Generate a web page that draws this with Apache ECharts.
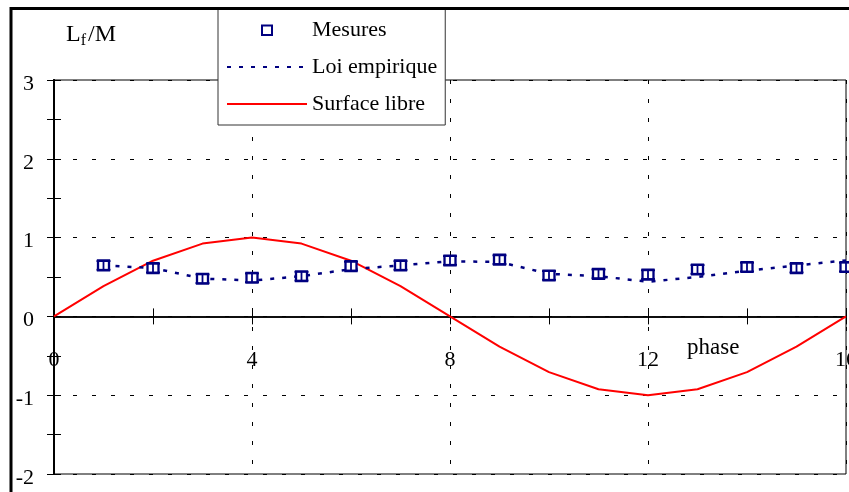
<!DOCTYPE html>
<html><head><meta charset="utf-8">
<script src="https://cdn.jsdelivr.net/npm/echarts@6/dist/echarts.min.js"></script>
<style>html,body{margin:0;padding:0;background:#fff}#c{width:849px;height:492px}</style>
</head><body><div id="c"></div>
<script>
// ---- data ----
const mesuresPhase = [1,2,3,4,5,6,7,8,9,10,11,12,13,14,15,16];
const mesures      = [0.647,0.613,0.478,0.49,0.51,0.638,0.647,0.71,0.72,0.52,0.54,0.53,0.596,0.626,0.613,0.626];
const mesuresErr   = [0.055,0.055,0.055,0.055,0.055,0.055,0.055,0.055,0.055,0.055,0.055,0.055,0.055,0.055,0.055,0.055];
const loiPhase     = [1,2,3,4,5,6,7,8,9,10,11,12,13,14,15,16];
const loi          = [0.647,0.613,0.48,0.455,0.51,0.60,0.647,0.70,0.69,0.54,0.51,0.44,0.50,0.58,0.647,0.71];
const surfacePhase = [0,1,2,3,4,5,6,7,8,9,10,11,12,13,14,15,16];
const surface      = [0,0.383,0.707,0.924,1,0.924,0.707,0.383,0,-0.383,-0.707,-0.924,-1,-0.924,-0.707,-0.383,0];
const xTickLabels  = [0,4,8,12,16];
const yTickLabels  = [-2,-1,0,1,2,3];

const FONT = 'Liberation Serif';
const NAVY = '#000080';

const chart = echarts.init(document.getElementById('c'), null, {renderer:'canvas'});

const xBase = {type:'value', min:0, max:16, interval:4, gridIndex:0};
const yBase = {type:'value', min:-2, max:3, interval:1, gridIndex:0};
const tickStyle = {color:'#000', width:1};

chart.setOption({
  animation:false,
  backgroundColor:'#fff',
  grid:{left:54, right:3, top:80, bottom:18, containLabel:false, outerBoundsMode:'none',
        show:true, borderColor:'#000', borderWidth:1, backgroundColor:'transparent'},
  xAxis:[
    // labels + vertical grid lines
    Object.assign({}, xBase, {
      position:'bottom',
      axisLine:{show:false, onZero:false},
      axisTick:{show:false},
      axisLabel:{show:true, margin:-125, fontFamily:FONT, fontSize:22, color:'#000',
        formatter:v => xTickLabels.includes(v) ? String(v) : ''},
      splitLine:{show:true, lineStyle:{color:'#000', width:1, type:[4,15]}}
    }),
    // axis line at zero, ticks downward
    Object.assign({}, xBase, {
      position:'bottom',
      axisLine:{show:true, onZero:true, onZeroAxisIndex:0, lineStyle:{color:'#000', width:1.5}},
      axisTick:{show:true, inside:false, length:8, lineStyle:tickStyle},
      minorTick:{show:true, splitNumber:2, length:8, lineStyle:tickStyle},
      axisLabel:{show:false},
      splitLine:{show:false}
    }),
    // ticks upward
    Object.assign({}, xBase, {
      position:'bottom',
      axisLine:{show:true, onZero:true, onZeroAxisIndex:1, lineStyle:{color:'#000', width:1.5}},
      axisTick:{show:true, inside:true, length:8, lineStyle:tickStyle},
      minorTick:{show:true, splitNumber:2, length:8, lineStyle:tickStyle},
      axisLabel:{show:false},
      splitLine:{show:false}
    })
  ],
  yAxis:[
    Object.assign({}, yBase, {
      position:'left',
      axisLine:{show:true, onZero:false, lineStyle:{color:'#000', width:2}},
      axisTick:{show:true, inside:false, length:7, lineStyle:tickStyle},
      minorTick:{show:true, splitNumber:2, length:7, lineStyle:tickStyle},
      axisLabel:{show:true, margin:20, fontFamily:FONT, fontSize:22, color:'#000',
        verticalAlign:'top', lineHeight:8,
        formatter:v => yTickLabels.includes(v) ? String(v) : ''},
      splitLine:{show:true, lineStyle:{color:'#000', width:1, type:[4,15]}}
    }),
    Object.assign({}, yBase, {
      position:'left',
      axisLine:{show:true, onZero:false, lineStyle:{color:'#000', width:2}},
      axisTick:{show:true, inside:true, length:7, lineStyle:tickStyle},
      minorTick:{show:true, splitNumber:2, length:7, lineStyle:tickStyle},
      axisLabel:{show:false},
      splitLine:{show:false}
    })
  ],
  legend:{
    data:[
      {name:'Mesures', icon:'path://M0,0 M80,10 M35,0.5 L45,0.5 L45,10 L35,10 Z'},
      {name:'Loi empirique', itemStyle:{opacity:0}},
      {name:'Surface libre', itemStyle:{opacity:0}}
    ],
    orient:'vertical', left:218, top:8,
    itemWidth:80, itemHeight:10, itemGap:15,
    padding:[11,8,10,8],
    backgroundColor:'#fff', borderColor:'#333', borderWidth:1, borderRadius:0,
    textStyle:{fontFamily:FONT, fontSize:22, color:'#000'},
    selectedMode:false
  },
  graphic:[
    {type:'rect', z:100, silent:true, shape:{x:11, y:8.5, width:900, height:600},
     style:{fill:'none', stroke:'#000', lineWidth:3}},
    {type:'text', left:66, top:23, z:100, style:{
      text:'{a|L}{b|f}{a|/M}',
      rich:{
        a:{fontFamily:FONT, fontSize:24, lineHeight:28, fill:'#000'},
        b:{fontFamily:FONT, fontSize:16, lineHeight:15, verticalAlign:'bottom', fill:'#000', padding:[0,2,0,0]}
      }
    }},
    {type:'text', left:687, top:336, z:100, style:{text:'phase', fontFamily:FONT, fontSize:23, fill:'#000'}}
  ],
  series:[
    {
      name:'Surface libre', type:'line', xAxisIndex:0, yAxisIndex:0,
      data:surfacePhase.map((p,i)=>[p, surface[i]]),
      symbol:'none', clip:false,
      lineStyle:{color:'#ff0000', width:2}, itemStyle:{color:'#ff0000'}, z:3
    },
    {
      name:'Loi empirique', type:'line', xAxisIndex:0, yAxisIndex:0,
      data:loiPhase.map((p,i)=>[p, loi[i]]),
      symbol:'none', clip:false,
      lineStyle:{color:NAVY, width:2.5, type:[4,8]}, itemStyle:{color:NAVY}, z:4
    },
    {
      name:'Mesures', type:'scatter', xAxisIndex:0, yAxisIndex:0,
      data:mesuresPhase.map((p,i)=>[p, mesures[i]]),
      symbol:'rect', symbolSize:[11,10], clip:false,
      itemStyle:{color:'#fff', borderColor:NAVY, borderWidth:2.2, opacity:1}, z:6
    },
    {
      name:'Erreur', type:'custom', xAxisIndex:0, yAxisIndex:0, clip:false, z:7,
      data:mesuresPhase.map((p,i)=>[p, mesures[i], mesuresErr[i]]),
      encode:{x:0, y:1},
      renderItem:function(params, api){
        const x = api.value(0), y = api.value(1), e = api.value(2);
        const top = api.coord([x, y + e]);
        const bot = api.coord([x, y - e]);
        const hw = 7;
        const st = {stroke:NAVY, lineWidth:1.8};
        return {type:'group', children:[
          {type:'line', shape:{x1:top[0], y1:top[1], x2:bot[0], y2:bot[1]}, style:st},
          {type:'line', shape:{x1:top[0]-hw, y1:top[1], x2:top[0]+hw, y2:top[1]}, style:st},
          {type:'line', shape:{x1:bot[0]-hw, y1:bot[1], x2:bot[0]+hw, y2:bot[1]}, style:st}
        ]};
      }
    }
  ]
});
</script>
</body></html>
